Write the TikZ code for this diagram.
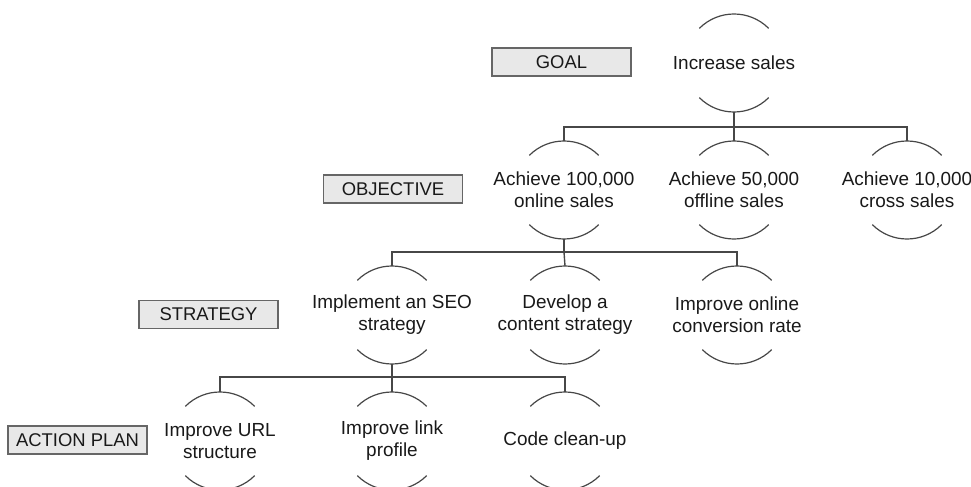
\documentclass[tikz,border=0pt]{standalone}
\usepackage{fontspec}
\setmainfont{Liberation Sans}
\begin{document}
\begin{tikzpicture}[x=1bp,y=1bp,
  ring/.style={circle, minimum size=98bp, inner sep=0pt, outer sep=0pt},
  tlabel/.style={align=center, inner sep=0pt, font=\fontsize{19}{22}\selectfont, text=black!90},
  levelbox/.style={draw=black!60, line width=1.8bp, fill=black!9, minimum width=139bp,
    minimum height=28bp, inner sep=0pt, font=\fontsize{18.5}{22}\selectfont, text=black!90},
  arcline/.style={draw=black!72, line width=1.2bp},
  link/.style={draw=black!72, line width=1.4bp}]
\useasboundingbox (0,0) rectangle (971,-487);

% level labels
\node[levelbox] (lgoal) at (561.5,-62) {GOAL};
\node[levelbox] (lobj) at (393,-189) {OBJECTIVE};
\node[levelbox] (lstr) at (208.5,-314.5) {STRATEGY};
\node[levelbox] (lact) at (77.5,-440) {ACTION PLAN};

% tree nodes (rings) and their texts
\node[ring] (g) at (734,-63) {};
\node[ring] (o1) at (564,-190) {};
\node[ring] (o2) at (734,-190) {};
\node[ring] (o3) at (907,-190) {};
\node[ring] (s1) at (392,-315) {};
\node[ring] (s2) at (565,-315) {};
\node[ring] (s3) at (737,-315) {};
\node[ring] (a1) at (220,-441) {};
\node[ring] (a2) at (392,-441) {};
\node[ring] (a3) at (565,-441) {};

\node[tlabel] (gt) at (g) {Increase sales};
\node[tlabel] (o1t) at (o1) {Achieve 100,000\\online sales};
\node[tlabel] (o2t) at (o2) {Achieve 50,000\\offline sales};
\node[tlabel] (o3t) at (o3) {Achieve 10,000\\cross sales};
\node[tlabel] (s1t) at (s1) {Implement an SEO\\strategy};
\node[tlabel] (s2t) at (s2) {Develop a\\content strategy};
\node[tlabel] (s3t) at (s3) {Improve online\\conversion rate};
\node[tlabel] (a1t) at (a1) {Improve URL\\structure};
\node[tlabel] (a2t) at (a2) {Improve link\\profile};
\node[tlabel] (a3t) at (a3) {Code clean-up};

\foreach \n in {g,o1,o2,o3,s1,s2,s3,a1,a2,a3}{
  \draw[arcline] (\n.45) arc[start angle=45,end angle=135,radius=49bp];
  \draw[arcline] (\n.225) arc[start angle=225,end angle=315,radius=49bp];
}

% connectors
\draw[link] (g.south) -- ++(0,-15) coordinate (b1);
\draw[link] (o1.north) |- (b1) -| (o3.north);
\draw[link] (b1) -- (o2.north);

\draw[link] (o1.south) -- ++(0,-13) coordinate (b2);
\draw[link] (s1.north) |- (b2) -| (s3.north);
\draw[link] (b2) -- (s2.north);

\draw[link] (s1.south) -- ++(0,-13) coordinate (b3);
\draw[link] (a1.north) |- (b3) -| (a3.north);
\draw[link] (b3) -- (a2.north);
\end{tikzpicture}
\end{document}
